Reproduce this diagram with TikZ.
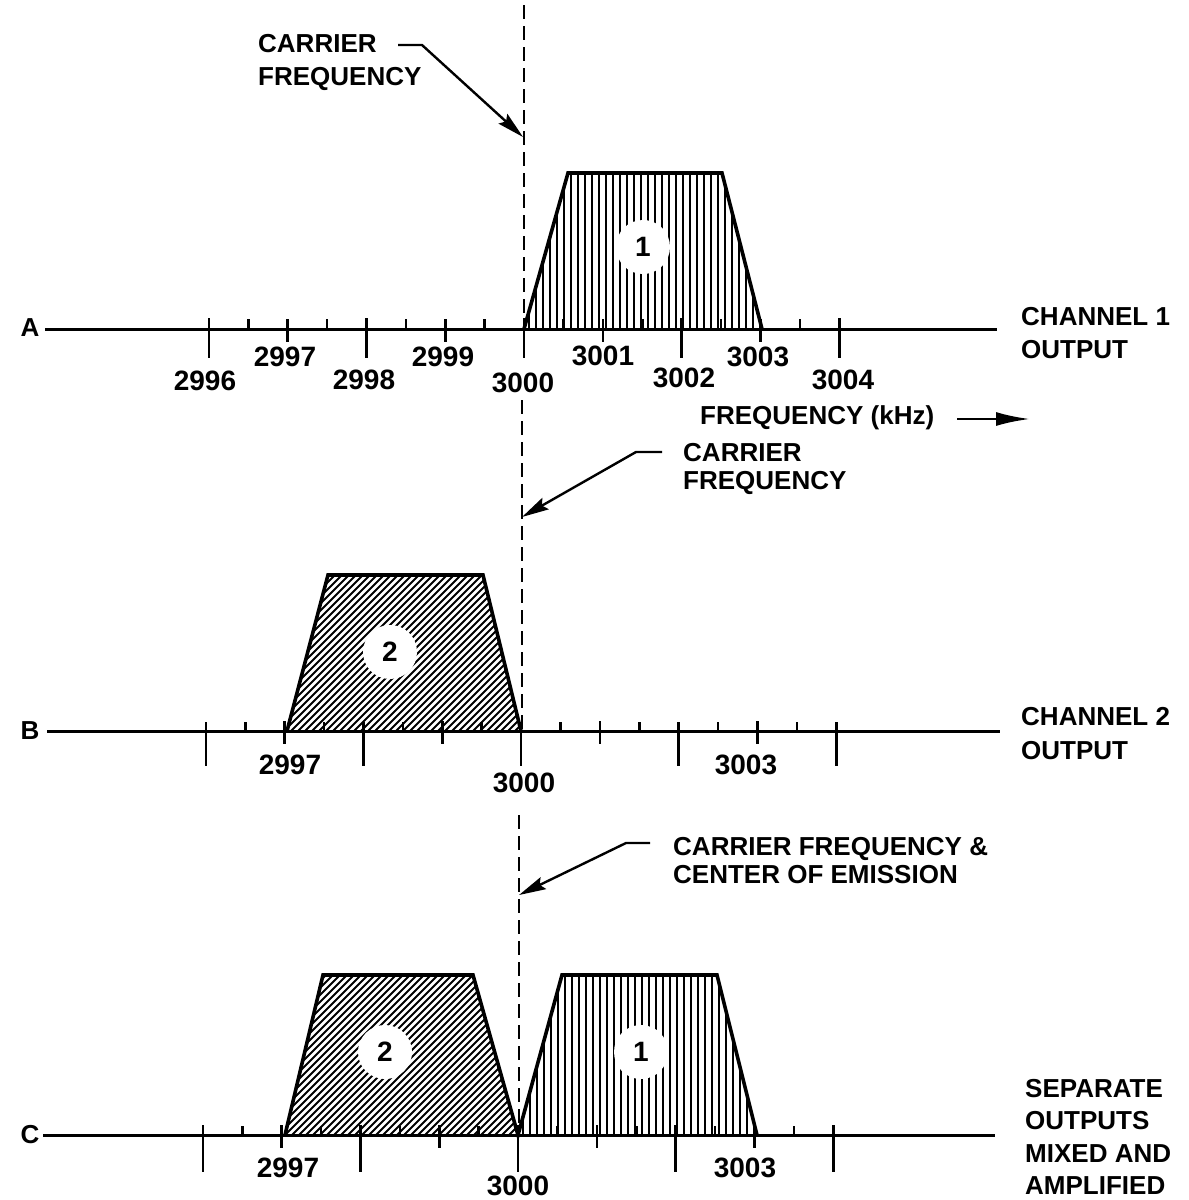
\documentclass[tikz,border=0pt]{standalone}
\usepackage{fontspec}
\setmainfont{Liberation Sans}
\usetikzlibrary{arrows.meta}
\begin{document}
\begin{tikzpicture}[x=1pt,y=-1pt,
  axisline/.style={line width=3pt},
  tickline/.style={line width=2.6pt},
  band/.style={line width=3.6pt, line join=miter},
  hatchline/.style={line width=1.8pt},
  carrierline/.style={line width=2.8pt, dash pattern=on 14pt off 7pt},
  leader/.style={line width=2.4pt, -{Stealth[length=27pt,width=13pt,inset=4pt]}},
  lbl/.style={font=\fontsize{26}{33}\selectfont\bfseries, inner sep=0pt},
  num/.style={font=\fontsize{28}{30}\selectfont\bfseries, inner sep=0pt},
  chan/.style={circle, fill=white, minimum size=54pt, inner sep=0pt, font=\fontsize{28}{30}\selectfont\bfseries}]
\useasboundingbox (0,0) rectangle (1189,1200);

% ---------------- Panel A ----------------
\coordinate (A0) at (45,329); \coordinate (A1) at (997,329);
\begin{scope}
  \clip (524,329) -- (568,173) -- (722,173) -- (762,329) -- cycle;
  \foreach \x in {522,529,...,770} \draw[hatchline] (\x,165) -- (\x,335);
\end{scope}
\node[chan] (c1A) at (643,247) {1};
\draw[band] (524,329) -- (568,173) -- (722,173) -- (762,329);
\draw[axisline] (A0) -- (A1);
\foreach \k in {-4,-2,0,2,4} \draw[tickline] ({524+\k*78.8},318) -- ({524+\k*78.8},358);
\foreach \k in {-3,-1,1,3} \draw[tickline] ({524+\k*78.8},319) -- ({524+\k*78.8},342);
\foreach \k in {-3.5,-2.5,-1.5,-0.5,0.5,1.5,2.5,3.5} \draw[tickline] ({524+\k*78.8},319) -- ({524+\k*78.8},329);
\node[lbl] (la) at (30,328) {A};
\node[num] (n2996) at (205,381) {2996};
\node[num] (n2997) at (285,357) {2997};
\node[num] (n2998) at (364,380) {2998};
\node[num] (n2999) at (443,357) {2999};
\node[num] (n3000a) at (523,383) {3000};
\node[num] (n3001) at (603,356) {3001};
\node[num] (n3002) at (684,378) {3002};
\node[num] (n3003a) at (758,357) {3003};
\node[num] (n3004) at (843,380) {3004};
\node[lbl, anchor=west, align=left] (outA) at (1021,333) {CHANNEL 1\\OUTPUT};
\node[lbl, anchor=west] (freq) at (700,418) {FREQUENCY (kHz)};
\coordinate (fa) at (957,419); \coordinate (fb) at (1030,419);
\draw[line width=2.8pt, -{Latex[length=34pt,width=14pt]}] (fa) -- (fb);
\draw[carrierline] (524,5) -- (524,329);
\node[lbl, anchor=west, align=left] (carA) at (258,62) {CARRIER\\FREQUENCY};
\coordinate (ta1) at (398,45); \coordinate (ta2) at (422,45); \coordinate (tipA) at (523,137);
\draw[leader] (ta1) -- (ta2) -- (tipA);

% ---------------- Panel B ----------------
\coordinate (B0) at (47,731); \coordinate (B1) at (1000,731);
\begin{scope}
  \clip (287,731) -- (328,575) -- (483,575) -- (521,731) -- cycle;
  \foreach \x in {100,107,...,540} \draw[hatchline] (\x,740) -- (\x+180,560);
\end{scope}
\node[chan] (c2B) at (390,652) {2};
\draw[band] (287,731) -- (328,575) -- (483,575) -- (521,731);
\draw[carrierline] (522,400) -- (522,731);
\draw[axisline] (B0) -- (B1);
\foreach \k in {-4,-2,0,2,4} \draw[tickline] ({521+\k*78.8},722) -- ({521+\k*78.8},766);
\foreach \k in {-3,-1,1,3} \draw[tickline] ({521+\k*78.8},721) -- ({521+\k*78.8},744);
\foreach \k in {-3.5,-2.5,-1.5,-0.5,0.5,1.5,2.5,3.5} \draw[tickline] ({521+\k*78.8},722) -- ({521+\k*78.8},731);
\node[lbl] (lb) at (30,731) {B};
\node[num] (m2997) at (290,765) {2997};
\node[num] (m3000) at (524,783) {3000};
\node[num] (m3003) at (746,765) {3003};
\node[lbl, anchor=west, align=left, font=\fontsize{26}{34}\selectfont\bfseries] (outB) at (1021,734) {CHANNEL 2\\OUTPUT};
\node[lbl, anchor=west, align=left, font=\fontsize{26}{28}\selectfont\bfseries] (carB) at (683,469) {CARRIER\\FREQUENCY};
\coordinate (tb1) at (636,452); \coordinate (tb2) at (662,452); \coordinate (tipB) at (522,517);
\draw[leader] (tb2) -- (tb1) -- (tipB);

% ---------------- Panel C ----------------
\coordinate (C0) at (43,1135); \coordinate (C1) at (995,1135);
\begin{scope}
  \clip (285,1135) -- (323,975) -- (473,975) -- (518,1135) -- cycle;
  \foreach \x in {100,107,...,540} \draw[hatchline] (\x,1145) -- (\x+180,965);
\end{scope}
\begin{scope}
  \clip (518,1135) -- (562,975) -- (717,975) -- (757,1135) -- cycle;
  \foreach \x in {516,523,...,765} \draw[hatchline] (\x,965) -- (\x,1140);
\end{scope}
\node[chan] (c2C) at (385,1052) {2};
\node[chan] (c1C) at (641,1052) {1};
\draw[band] (285,1135) -- (323,975) -- (473,975) -- (518,1135) -- (562,975) -- (717,975) -- (757,1135);
\draw[carrierline] (519,815) -- (519,1135);
\draw[axisline] (C0) -- (C1);
\foreach \k in {-4,-2,0,2,4} \draw[tickline] ({518+\k*78.8},1125) -- ({518+\k*78.8},1172);
\foreach \k in {-3,-1,1,3} \draw[tickline] ({518+\k*78.8},1125) -- ({518+\k*78.8},1148);
\foreach \k in {-3.5,-2.5,-1.5,-0.5,0.5,1.5,2.5,3.5} \draw[tickline] ({518+\k*78.8},1126) -- ({518+\k*78.8},1135);
\node[lbl] (lc) at (30,1135) {C};
\node[num] (k2997) at (288,1168) {2997};
\node[num] (k3000) at (518,1186) {3000};
\node[num] (k3003) at (745,1168) {3003};
\node[lbl, anchor=west, align=left, font=\fontsize{26}{32.5}\selectfont\bfseries] (outC) at (1025,1137) {SEPARATE\\OUTPUTS\\MIXED AND\\AMPLIFIED};
\node[lbl, anchor=west, align=left, font=\fontsize{26}{28}\selectfont\bfseries] (carC) at (673,861) {CARRIER FREQUENCY \&\\CENTER OF EMISSION};
\coordinate (tc1) at (626,843); \coordinate (tc2) at (650,843); \coordinate (tipC) at (519,895);
\draw[leader] (tc2) -- (tc1) -- (tipC);
\end{tikzpicture}
\end{document}
